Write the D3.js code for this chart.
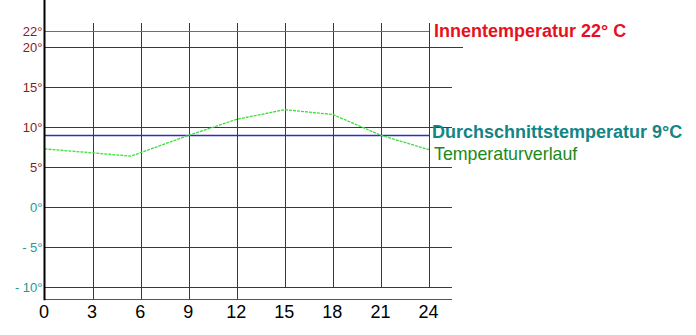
<!DOCTYPE html>
<html>
<head>
<meta charset="utf-8">
<script src="https://cdn.jsdelivr.net/npm/d3@7"></script>
<style>
  body { margin: 0; background: #fff; }
  svg { display: block; font-family: Arial, "Liberation Sans", sans-serif; }
</style>
</head>
<body>
<div id="chart"></div>
<script>
const hourTicks = [0, 3, 6, 9, 12, 15, 18, 21, 24];
const tempTicks = [22, 20, 15, 10, 5, 0, -5, -10];
const tempLabels = ["22°", "20°", "15°", "10°", "5°", "0°", "- 5°", "- 10°"];
const curveHours = [0, 5.4, 9, 12, 15, 18, 21, 24];
const curveTemps = [7.3, 6.4, 9, 11, 12.2, 11.6, 9, 7.2];
const indoorTemp = 22;
const averageTemp = 9;
const labelTexts = ["Innentemperatur 22° C", "Durchschnittstemperatur 9°C", "Temperaturverlauf"];

const w = 696;
const h = 335;

const x = d3.scaleLinear().domain([0, 24]).range([44.5, 429]);
const y = d3.scaleLinear().domain([-11.5, 22]).range([299.3, 31.3]);

const svg = d3.select("#chart")
  .append("svg")
  .attr("width", w)
  .attr("height", h);

// horizontal grid lines (except the 22 line which is the red reference)
svg.append("g")
  .selectAll("line")
  .data(tempTicks.filter(t => t !== indoorTemp))
  .enter()
  .append("line")
  .attr("x1", x(0))
  .attr("x2", d => d === 20 ? 463 : 452)
  .attr("y1", d => Math.round(y(d)) + 0.5)
  .attr("y2", d => Math.round(y(d)) + 0.5)
  .attr("stroke", "#3a3a3a")
  .attr("stroke-width", 1);

// vertical grid lines
svg.append("g")
  .selectAll("line")
  .data(hourTicks.slice(1))
  .enter()
  .append("line")
  .attr("x1", d => Math.round(x(d)) + 0.5)
  .attr("x2", d => Math.round(x(d)) + 0.5)
  .attr("y1", 23)
  .attr("y2", d => d >= 15 ? Math.round(y(-10)) : Math.round(y(-11.5)))
  .attr("stroke", "#3a3a3a")
  .attr("stroke-width", 1);

// reference lines
svg.append("line")
  .attr("x1", x(0)).attr("x2", x(24))
  .attr("y1", Math.round(y(indoorTemp)) + 0.5).attr("y2", Math.round(y(indoorTemp)) + 0.5)
  .attr("stroke", "#c84848").attr("stroke-width", 1.2);

svg.append("line")
  .attr("x1", x(0)).attr("x2", x(24))
  .attr("y1", Math.round(y(averageTemp)) + 0.5).attr("y2", Math.round(y(averageTemp)) + 0.5)
  .attr("stroke", "#2f2fbf").attr("stroke-width", 1.5);

// temperature curve
const line = d3.line()
  .x((d, i) => x(curveHours[i]))
  .y(d => y(d));

svg.append("path")
  .datum(curveTemps)
  .attr("d", line)
  .attr("fill", "none")
  .attr("stroke", "#3cdc3c")
  .attr("stroke-width", 1.3)
  .attr("stroke-dasharray", "3,1");

// x axis
const xAxis = d3.axisBottom(x)
  .tickValues(hourTicks)
  .tickSize(0)
  .tickPadding(6)
  .tickFormat(d3.format("d"));

const gx = svg.append("g")
  .attr("transform", "translate(0," + (Math.round(y(-11.5)) + 0.5) + ")")
  .call(xAxis);
gx.select(".domain").remove();
gx.selectAll("text")
  .attr("font-size", 18)
  .attr("font-family", "Arial, 'Liberation Sans', sans-serif")
  .attr("fill", "#000")
  .attr("dx", -1);

svg.append("line")
  .attr("x1", x(0)).attr("x2", 452)
  .attr("y1", Math.round(y(-11.5)) + 0.5).attr("y2", Math.round(y(-11.5)) + 0.5)
  .attr("stroke", "#555").attr("stroke-width", 1);

// y axis
const yAxis = d3.axisLeft(y)
  .tickValues(tempTicks)
  .tickSize(0)
  .tickPadding(2)
  .tickFormat((d, i) => tempLabels[i]);

const gy = svg.append("g")
  .attr("transform", "translate(" + x(0) + ",0)")
  .call(yAxis);
gy.select(".domain").remove();
gy.selectAll("text")
  .attr("font-size", 13)
  .attr("font-family", "Arial, 'Liberation Sans', sans-serif")
  .attr("fill", d => d > 0 ? "#8a1c1c" : "#24999a");

svg.append("line")
  .attr("x1", x(0)).attr("x2", x(0))
  .attr("y1", 0).attr("y2", y(-11.5) + 1)
  .attr("stroke", "#000").attr("stroke-width", 2);

// right side labels
svg.append("text")
  .attr("x", 434).attr("y", y(indoorTemp) + 5.5)
  .attr("font-size", 18).attr("font-weight", "bold")
  .attr("fill", "#e8101c")
  .text(labelTexts[0]);

svg.append("text")
  .attr("x", 432).attr("y", y(averageTemp) + 2.5)
  .attr("font-size", 18).attr("font-weight", "bold")
  .attr("fill", "#138585")
  .text(labelTexts[1]);

svg.append("text")
  .attr("x", 434).attr("y", y(averageTemp) + 25)
  .attr("font-size", 17.8)
  .attr("fill", "#198a19")
  .text(labelTexts[2]);
</script>
</body>
</html>
